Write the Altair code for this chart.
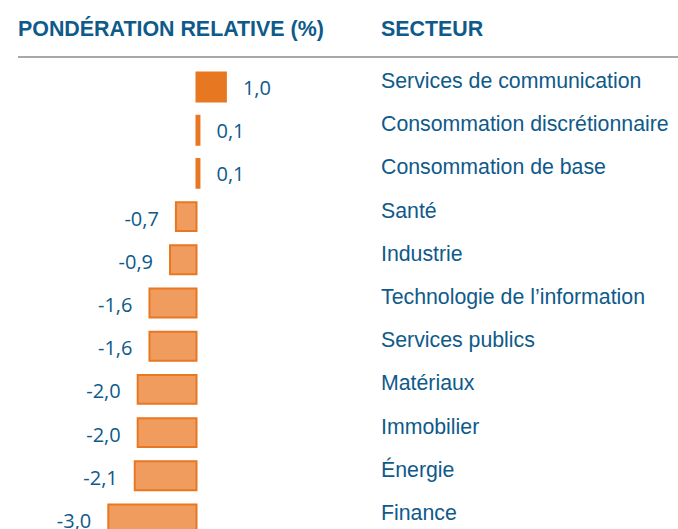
import altair as alt
import pandas as pd

sectors = [
    "Services de communication",
    "Consommation discrétionnaire",
    "Consommation de base",
    "Santé",
    "Industrie",
    "Technologie de l’information",
    "Services publics",
    "Matériaux",
    "Immobilier",
    "Énergie",
    "Finance",
]
values = [1.0, 0.1, 0.1, -0.7, -0.9, -1.6, -1.6, -2.0, -2.0, -2.1, -3.0]
headers = ["PONDÉRATION RELATIVE (%)", "SECTEUR"]

df = pd.DataFrame({
    "sector": sectors,
    "v": values,
    "label": [f"{v:.1f}".replace(".", ",") for v in values],
})

BLUE = "#0E5A8A"
ORANGE = "#E87722"
LIGHT = "#F09C5F"

xs = alt.Scale(domain=[-6.684, 16.378])
ys = alt.Scale(range=[65.4, 540.6], paddingInner=0.33, paddingOuter=0.165)
yenc = alt.Y("sector:N", sort=sectors, scale=ys, axis=None)
xenc = alt.X("v:Q", scale=xs, axis=None)

base = alt.Chart(df)

pos_bars = base.transform_filter("datum.v > 0").mark_bar(
    color=ORANGE, stroke=ORANGE, strokeWidth=2
).encode(x=xenc, x2=alt.datum(0), y=yenc)
neg_bars = base.transform_filter("datum.v <= 0").mark_bar(
    color=LIGHT, stroke=ORANGE, strokeWidth=2
).encode(x=xenc, x2=alt.datum(0), y=yenc)

pos_lab = base.transform_filter("datum.v > 0").mark_text(
    align="left", baseline="alphabetic", dx=17, dy=8, font="Open Sans", fontSize=20, color=BLUE
).encode(x=xenc, y=yenc, text="label:N")

neg_lab = base.transform_filter("datum.v <= 0").mark_text(
    align="right", baseline="alphabetic", dx=-17, dy=9, font="Open Sans", fontSize=20, color=BLUE
).encode(x=xenc, y=yenc, text="label:N")

sec_lab = base.mark_text(
    align="left", baseline="alphabetic", dy=1, font="Liberation Sans", fontSize=21.3, color=BLUE
).encode(x=alt.value(381), y=yenc, text="sector:N")

hdr = pd.DataFrame({"h": headers})
h1 = alt.Chart(hdr).transform_filter(f"datum.h == '{headers[0]}'").mark_text(
    align="left", baseline="alphabetic", font="Liberation Sans", fontSize=21.4, fontWeight="bold", color=BLUE
).encode(x=alt.value(18), y=alt.value(36), text="h:N")
h2 = alt.Chart(hdr).transform_filter(f"datum.h == '{headers[1]}'").mark_text(
    align="left", baseline="alphabetic", font="Liberation Sans", fontSize=21.4, fontWeight="bold", color=BLUE
).encode(x=alt.value(381), y=alt.value(36), text="h:N")

rule = alt.Chart(hdr).mark_rule(color="#A8A8A8", strokeWidth=2).encode(
    x=alt.value(18), x2=alt.value(678), y=alt.value(57)
)

chart = alt.layer(rule, h1, h2, pos_bars, neg_bars, pos_lab, neg_lab, sec_lab).properties(
    width=678, height=529, autosize=alt.AutoSizeParams(type="none"), padding=0, background="white"
).configure_view(stroke=None)

chart.save("out.html", embed_options={"renderer": "svg", "actions": False})
